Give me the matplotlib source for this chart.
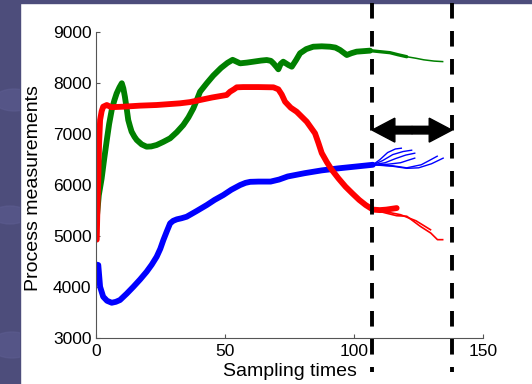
import matplotlib
matplotlib.use("Agg")
import matplotlib.pyplot as plt
from matplotlib.patches import Rectangle, Ellipse, FancyArrow

plt.rcParams['font.family'] = ['Liberation Sans', 'DejaVu Sans']

# ---- data ----
green_x = [0.5, 1.2, 2.3, 3.3, 4.3, 5.2, 6.2, 7.2, 8.1, 9.2, 10.1, 10.7, 11.3, 12.0, 12.6, 13.3,
           13.9, 15.0, 15.9, 17.8, 19.7, 21.5, 23.6, 26.2, 28.8, 31.4, 33.9, 35.9, 37.8, 39.2,
           40.4, 43.0, 45.5, 48.5, 51.0, 53.0, 55.9, 58.5, 61.0, 64.0, 66.2, 67.8, 68.8, 70.0,
           70.7, 71.6, 72.6, 74.6, 75.9, 77.5, 79.1, 81.5, 84.2, 87.5, 90.7, 92.8, 94.6, 97.2,
           99.0, 101.0, 106.2]
green_y = [5400, 5800, 6130, 6520, 6886, 7200, 7475, 7660, 7800, 7920, 8000, 7900, 7736, 7500,
           7278, 7150, 7050, 6950, 6886, 6800, 6755, 6760, 6788, 6850, 6919, 7040, 7180, 7330,
           7508, 7680, 7834, 8000, 8150, 8300, 8400, 8460, 8391, 8405, 8423, 8445, 8456, 8440,
           8391, 8320, 8274, 8380, 8423, 8358, 8325, 8450, 8588, 8670, 8717, 8725, 8717, 8700,
           8652, 8554, 8590, 8620, 8640]
green_mid_x = [106.2, 110.0, 113.9, 117.0, 120.4]
green_mid_y = [8640, 8620, 8600, 8560, 8521]
green_tail_x = [120.4, 124.0, 127.0, 131.0, 134.3]
green_tail_y = [8521, 8490, 8460, 8435, 8425]

red_x = [0.4, 0.7, 1.0, 1.3, 1.7, 2.3, 2.9, 4.3, 6.0, 10.7, 17.0, 23.6, 32.6, 36.5, 40.4, 45.0,
         50.7, 52.0, 53.5, 54.6, 57.1, 63.0, 68.8, 70.7, 72.0, 73.3, 75.5, 77.8, 81.7, 84.9,
         86.2, 87.5, 89.5, 91.4, 94.0, 96.7, 99.5, 102.0, 104.5, 107.3, 110.0, 112.5, 116.5]
red_y = [4930, 5600, 6100, 6800, 7278, 7450, 7540, 7573, 7530, 7540, 7560, 7573, 7606, 7630,
         7671, 7720, 7770, 7834, 7880, 7920, 7925, 7925, 7920, 7881, 7780, 7638, 7520, 7441,
         7245, 7017, 6830, 6630, 6450, 6300, 6130, 5970, 5830, 5710, 5610, 5520, 5510, 5520, 5550]
red_tail1_x = [107.3, 112.5, 116.5, 120.4, 125.7, 129.7, 132.3, 134.3]
red_tail1_y = [5520, 5450, 5400, 5390, 5190, 5060, 4930, 4930]
red_tail2_x = [107.3, 113.0, 118.0, 124.0, 129.6]
red_tail2_y = [5520, 5470, 5420, 5300, 5125]

blue_x = [0.4, 1.0, 1.7, 2.9, 4.4, 6.2, 7.8, 9.4, 12.0, 14.6, 17.2, 19.7, 21.7, 23.6, 25.0,
          26.2, 27.5, 28.8, 30.0, 31.4, 33.2, 35.2, 39.0, 43.0, 46.0, 49.4, 52.5, 55.9, 58.0,
          59.8, 63.0, 67.7, 71.0, 74.3, 80.9, 87.5, 94.0, 100.7, 107.3]
blue_y = [4440, 4432, 4006, 3810, 3730, 3692, 3710, 3745, 3870, 4006, 4150, 4300, 4440, 4595,
          4750, 4923, 5090, 5250, 5300, 5329, 5350, 5380, 5490, 5610, 5710, 5806, 5910, 6002,
          6045, 6065, 6070, 6070, 6110, 6170, 6235, 6290, 6330, 6365, 6400]
blue_branches_x = [
    [107.3, 110.0, 113.0, 116.0, 118.3],
    [107.3, 111.0, 115.0, 119.0, 122.3],
    [107.3, 112.0, 116.0, 120.0, 123.5],
    [107.3, 113.0, 118.0, 121.0, 123.5],
    [107.3, 115.0, 120.4, 126.0, 129.0, 132.2],
    [107.3, 115.0, 120.4, 125.0, 130.0, 134.5],
]
blue_branches_y = [
    [6400, 6500, 6640, 6710, 6725],
    [6400, 6480, 6600, 6660, 6686],
    [6400, 6440, 6520, 6590, 6627],
    [6400, 6410, 6440, 6490, 6530],
    [6400, 6380, 6340, 6400, 6480, 6568],
    [6400, 6370, 6330, 6340, 6420, 6530],
]

window_x = [107.0, 137.9]
arrow_y = 7080
x_ticks = [0, 50, 100, 150]
y_ticks = [3000, 4000, 5000, 6000, 7000, 8000, 9000]

# ---- figure ----
fig = plt.figure(figsize=(5.32, 3.84), dpi=100, facecolor='white')
W, H = 532, 384
bg = '#4d4d7b'
strip = Rectangle((0, 0), 20 / W, 1, transform=fig.transFigure, color=bg, zorder=0)
fig.add_artist(strip)
fig.add_artist(Rectangle((0, 1 - 3 / H), 1, 3 / H, transform=fig.transFigure, color=bg, zorder=0))
for cx, cy, ew, eh in [(14, 100, 40, 22), (10, 215, 36, 18), (12, 345, 44, 26)]:
    e = Ellipse((cx / W, 1 - cy / H), ew / W, eh / H, transform=fig.transFigure,
                color='#5c5c90', alpha=0.6, zorder=0.5)
    fig.add_artist(e)
    e.set_clip_path(strip)

ax = fig.add_axes([95.7 / W, (H - 338) / H, 387.5 / W, 305.7 / H])
ax.set_xlim(0, 150)
ax.set_ylim(3000, 9000)
ax.patch.set_alpha(0)
for s in ['top', 'right']:
    ax.spines[s].set_visible(False)
for s in ['left', 'bottom']:
    ax.spines[s].set_color('#555555')
    ax.spines[s].set_linewidth(0.8)
ax.set_xticks(x_ticks)
ax.set_yticks(y_ticks)
ax.tick_params(direction='in', length=3, width=0.8, color='#555555', labelsize=12.5, pad=3)
ax.tick_params(axis='x', pad=4)

thick = dict(lw=4.2, solid_joinstyle='round', solid_capstyle='round')
ax.plot(green_x, green_y, color='#008000', **thick)
ax.plot(green_mid_x, green_mid_y, color='#008000', lw=2.4, solid_capstyle='round')
ax.plot(green_tail_x, green_tail_y, color='#008000', lw=1.1)
ax.plot(blue_x, blue_y, color='#0000ff', **thick)
for bx, by in zip(blue_branches_x, blue_branches_y):
    ax.plot(bx, by, color='#0000ff', lw=1.0)
ax.plot(red_x, red_y, color='#ff0000', **thick)
ax.plot(red_tail1_x, red_tail1_y, color='#ff0000', lw=1.2)
ax.plot(red_tail2_x, red_tail2_y, color='#ff0000', lw=1.2)

# dashed window lines, running beyond the axes
for wx in window_x:
    ax.plot([wx, wx], [1.096, -0.111], transform=ax.get_xaxis_transform(), clip_on=False,
            color='k', lw=2.8, dashes=(4.0, 3.2), solid_capstyle='butt', zorder=5)

# double-headed arrow between the window lines
mid = (window_x[0] + window_x[1]) / 2
for end in window_x:
    ax.add_patch(FancyArrow(mid, arrow_y, end - mid, 0, width=150, head_width=470,
                            head_length=8.8, length_includes_head=True, color='k', zorder=6))

ax.set_xlabel('Sampling times', fontsize=14)
ax.set_ylabel('Process measurements', fontsize=14)
ax.xaxis.set_label_coords(0.5, -0.083)
ax.yaxis.set_label_coords(-0.139, 0.49)

fig.savefig('out.png', dpi=100, facecolor='white')
